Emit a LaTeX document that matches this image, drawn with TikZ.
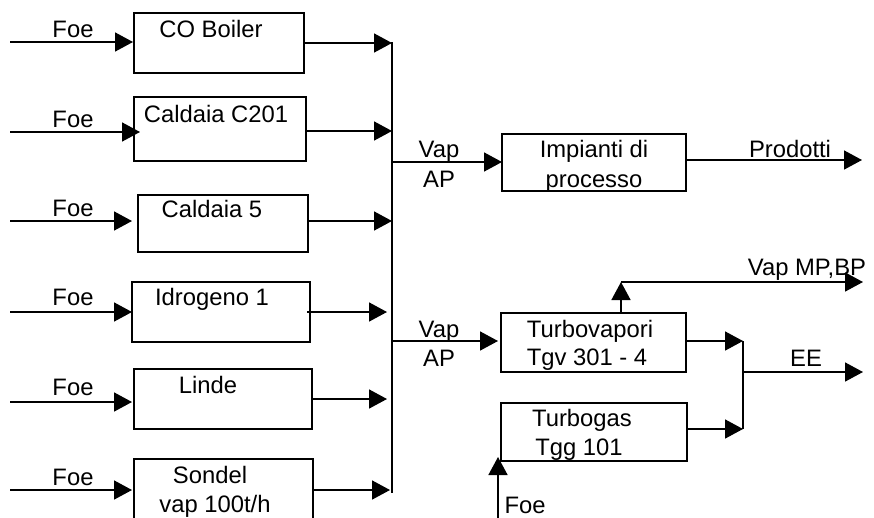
\documentclass[tikz,border=0pt]{standalone}
\usepackage{fontspec}
\setmainfont{Liberation Sans}
\usetikzlibrary{arrows.meta}
\begin{document}
\begin{tikzpicture}[x=1pt,y=-1pt,
  box/.style={draw, line width=1.9pt, inner sep=0pt, outer sep=0pt},
  lbl/.style={anchor=base, inner sep=0pt, font=\fontsize{23.8}{29}\selectfont},
  arr/.style={line width=1.6pt, -{Triangle[length=18pt,width=19pt]}},
  ln/.style={line width=1.9pt}]
\clip (0,0) rectangle (874,517);
\fill[white] (0,0) rectangle (874,517);
% left boxes
\node[box, minimum width=170pt, minimum height=60pt] (b1) at (219,43) {};
\node[box, minimum width=172pt, minimum height=64pt] (b2) at (220,129) {};
\node[box, minimum width=170pt, minimum height=57pt] (b3) at (223,223.5) {};
\node[box, minimum width=178pt, minimum height=60pt] (b4) at (221,312) {};
\node[box, minimum width=178pt, minimum height=60pt] (b5) at (223,399) {};
\node[box, minimum width=179pt, minimum height=81pt] (b6) at (223.5,499.5) {};
% right boxes
\node[box, minimum width=184pt, minimum height=57pt] (imp) at (594,162.5) {};
\node[box, minimum width=185pt, minimum height=59pt] (tv) at (593.5,342.5) {};
\node[box, minimum width=186pt, minimum height=58pt] (tg) at (594,432) {};
% box texts
\node[lbl] (t1) at (211,37) {CO Boiler};
\node[lbl] (t2) at (216,122) {Caldaia C201};
\node[lbl] (t3) at (212,217) {Caldaia 5};
\node[lbl] (t4) at (212,305) {Idrogeno 1};
\node[lbl] (t5) at (208,393) {Linde};
\node[lbl] (t6a) at (210,483) {Sondel};
\node[lbl] (t6b) at (215,512) {vap 100t/h};
\node[lbl] (ti1) at (594,157) {Impianti di};
\node[lbl] (ti2) at (594,187) {processo};
\node[lbl] (tv1) at (590,337) {Turbovapori};
\node[lbl] (tv2) at (587,365) {Tgv 301 - 4};
\node[lbl] (tg1) at (582,426) {Turbogas};
\node[lbl] (tg2) at (579,455) {Tgg 101};
% Foe inputs
\foreach \i/\y/\by in {1/42/37, 2/132/127, 3/221/216, 4/312/305, 5/402/395, 6/490/485}{
  \coordinate (f\i) at (10,\y);
  \node[lbl] (fl\i) at (73,\by) {Foe};
}
\draw[arr] (f1) -- ([xshift=-1pt]b1.west |- f1);
\draw[arr] (f2) -- ([xshift=6pt]b2.west |- f2);
\draw[arr] (f3) -- ([xshift=-6pt]b3.west |- f3);
\draw[arr] (f4) -- (b4.west |- f4);
\draw[arr] (f5) -- ([xshift=-2pt]b5.west |- f5);
\draw[arr] (f6) -- ([xshift=-2pt]b6.west |- f6);
% outputs to bus
\coordinate (o1) at (392,43);
\coordinate (o2) at (392,131);
\coordinate (o3) at (392,221);
\coordinate (o4) at (387,312);
\coordinate (o5) at (387,399);
\coordinate (o6) at (390,490);
\draw[arr] (b1.east |- o1) -- (o1);
\draw[arr] (b2.east |- o2) -- (o2);
\draw[arr] (b3.east |- o3) -- (o3);
\draw[arr] ([xshift=-3pt]b4.east |- o4) -- (o4);
\draw[arr] (b5.east |- o5) -- (o5);
\draw[arr] (b6.east |- o6) -- (o6);
% bus
\coordinate (bustop) at (392,42);
\coordinate (busbot) at (392,493);
\draw[ln] (bustop) -- (busbot);
% Vap AP
\coordinate (j1) at (392,162);
\coordinate (j2) at (392,341);
\draw[arr] (j1) -- (imp.west |- j1);
\draw[arr] (j2) -- ([xshift=-3pt]tv.west |- j2);
\node[lbl] (va1) at (439,157) {Vap};
\node[lbl] (ap1) at (439,187) {AP};
\node[lbl] (va2) at (439,337) {Vap};
\node[lbl] (ap2) at (439,366) {AP};
% Prodotti
\coordinate (prod) at (862,160);
\draw[arr] (imp.east |- prod) -- (prod);
\node[lbl] (tprod) at (790,157) {Prodotti};
% Vap MP,BP
\coordinate (up) at (621,282);
\coordinate (mp) at (863,282);
\draw[arr] (tv.north -| up) -- (up);
\draw[arr] (up) -- (mp);
\node[lbl] (tmp) at (807,275) {Vap MP,BP};
% EE
\coordinate (s1) at (743,341);
\coordinate (s2) at (743,429);
\coordinate (ee) at (863,372);
\draw[arr] (tv.east |- s1) -- (s1);
\draw[arr] (tg.east |- s2) -- (s2);
\draw[ln] (s1) -- (s2);
\draw[arr] (s1 |- ee) -- (ee);
\node[lbl] (tee) at (806,366) {EE};
% Foe to turbogas
\coordinate (fb) at (498,520);
\coordinate (fbt) at (498,457);
\draw[arr] (fb) -- (fbt);
\node[lbl] (flb) at (525,513) {Foe};
\end{tikzpicture}
\end{document}
